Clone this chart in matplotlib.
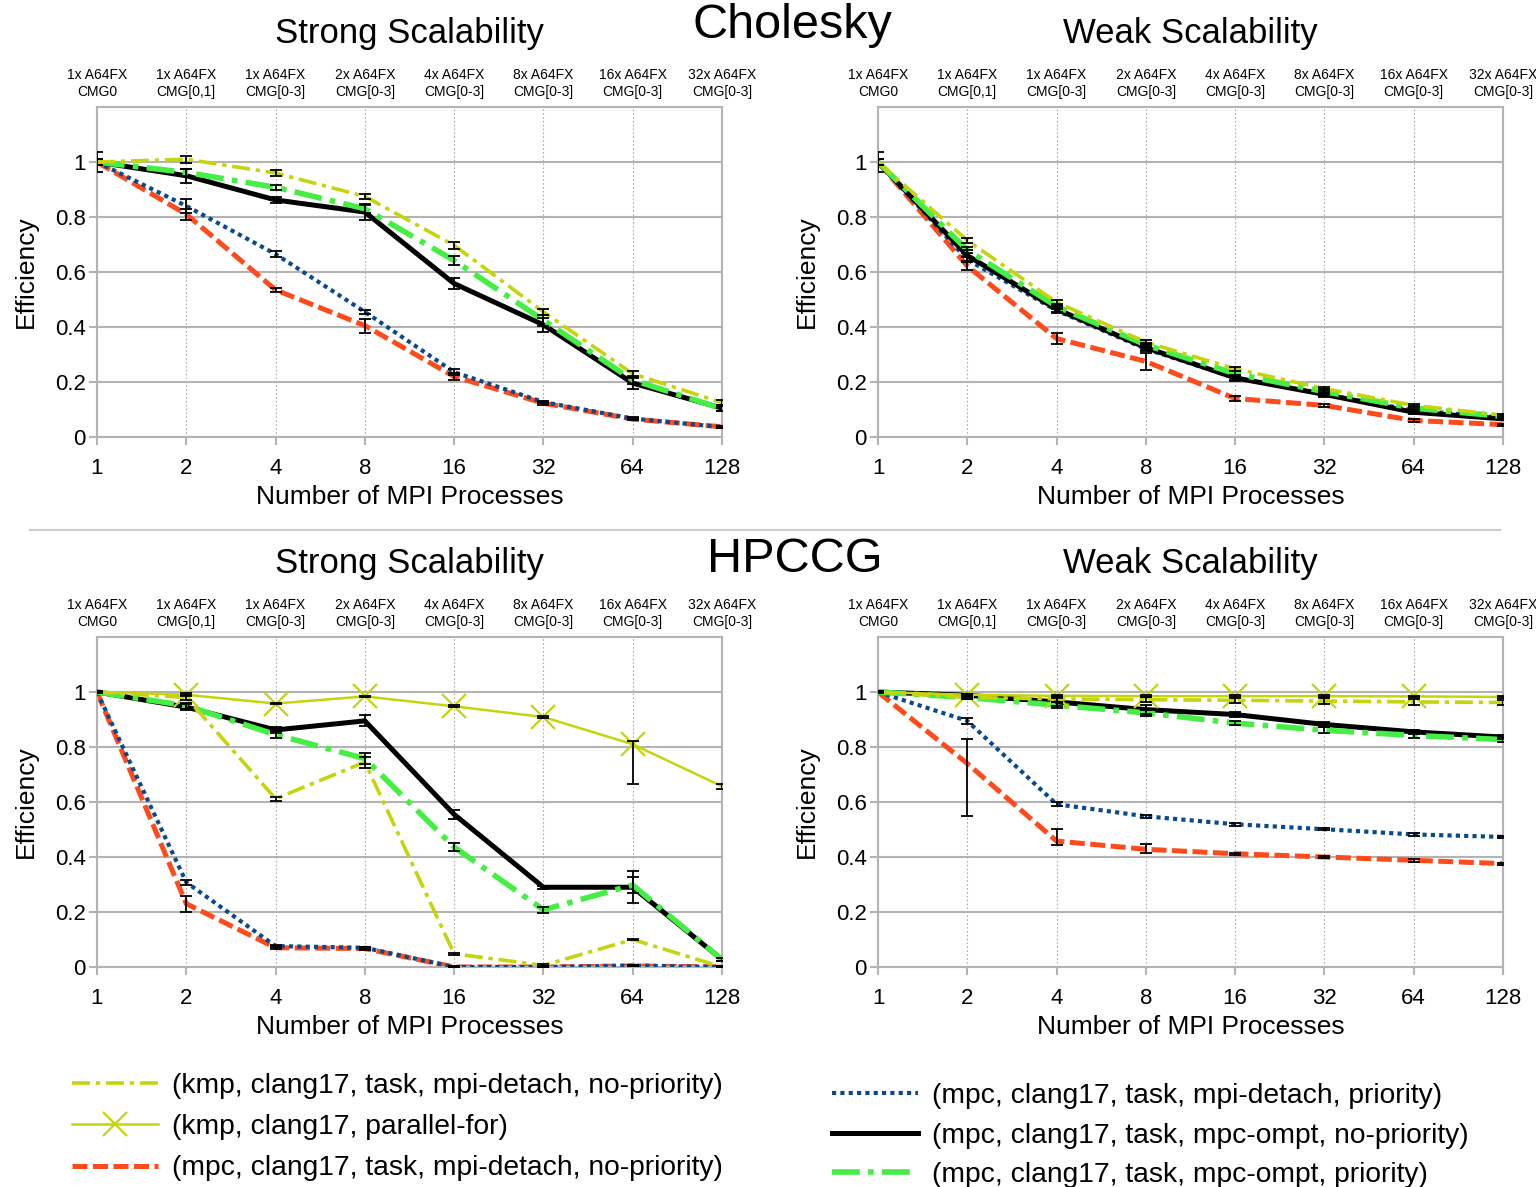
import matplotlib
matplotlib.use('Agg')
import matplotlib.pyplot as plt
from matplotlib.lines import Line2D
from matplotlib.ticker import NullLocator

plt.rcParams['font.family'] = ['Liberation Sans', 'DejaVu Sans']

# x positions (number of MPI processes) and the hardware labels on top
procs = [1, 2, 4, 8, 16, 32, 64, 128]
top_labels = ['1x A64FX\nCMG0', '1x A64FX\nCMG[0,1]', '1x A64FX\nCMG[0-3]', '2x A64FX\nCMG[0-3]',
              '4x A64FX\nCMG[0-3]', '8x A64FX\nCMG[0-3]', '16x A64FX\nCMG[0-3]', '32x A64FX\nCMG[0-3]']
y_ticks = [0, 0.2, 0.4, 0.6, 0.8, 1.0]
y_tick_labels = ['0', '0.2', '0.4', '0.6', '0.8', '1']

# ---- Cholesky, strong scalability
chol_strong_kmp_task = [1.0, 1.01, 0.96, 0.875, 0.697, 0.455, 0.23, 0.125]
chol_strong_kmp_task_err = [0.01, 0.012, 0.01, 0.008, 0.012, 0.01, 0.01, 0.008]
chol_strong_detach_nopri = [1.0, 0.81, 0.535, 0.405, 0.22, 0.123, 0.065, 0.037]
chol_strong_detach_nopri_err = [0.01, 0.02, 0.008, 0.025, 0.012, 0.005, 0.004, 0.003]
chol_strong_detach_pri = [1.0, 0.84, 0.665, 0.455, 0.236, 0.127, 0.067, 0.036]
chol_strong_detach_pri_err = [0.01, 0.025, 0.01, 0.008, 0.01, 0.005, 0.004, 0.003]
chol_strong_ompt_nopri = [1.0, 0.95, 0.862, 0.818, 0.558, 0.408, 0.196, 0.105]
chol_strong_ompt_nopri_err = [0.035, 0.025, 0.012, 0.03, 0.02, 0.025, 0.02, 0.01]
chol_strong_ompt_pri = [1.0, 0.962, 0.908, 0.83, 0.642, 0.425, 0.207, 0.103]
chol_strong_ompt_pri_err = [0.01, 0.012, 0.01, 0.015, 0.018, 0.02, 0.015, 0.01]

# ---- Cholesky, weak scalability
chol_weak_kmp_task = [1.0, 0.715, 0.49, 0.345, 0.248, 0.176, 0.115, 0.079]
chol_weak_kmp_task_err = [0.01, 0.01, 0.01, 0.008, 0.008, 0.006, 0.006, 0.005]
chol_weak_detach_nopri = [1.0, 0.622, 0.358, 0.275, 0.14, 0.115, 0.06, 0.045]
chol_weak_detach_nopri_err = [0.01, 0.015, 0.02, 0.03, 0.008, 0.005, 0.004, 0.004]
chol_weak_detach_pri = [1.0, 0.645, 0.46, 0.32, 0.215, 0.155, 0.097, 0.07]
chol_weak_detach_pri_err = [0.01, 0.01, 0.008, 0.006, 0.006, 0.005, 0.004, 0.004]
chol_weak_ompt_nopri = [1.0, 0.66, 0.465, 0.325, 0.215, 0.155, 0.09, 0.066]
chol_weak_ompt_nopri_err = [0.035, 0.02, 0.01, 0.01, 0.01, 0.008, 0.005, 0.005]
chol_weak_ompt_pri = [1.0, 0.68, 0.475, 0.335, 0.23, 0.165, 0.105, 0.075]
chol_weak_ompt_pri_err = [0.01, 0.01, 0.008, 0.008, 0.01, 0.008, 0.006, 0.005]

# ---- HPCCG, strong scalability
hpccg_strong_kmp_task = [1.0, 0.98, 0.612, 0.745, 0.048, 0.006, 0.1, 0.0]
hpccg_strong_kmp_task_err = [0.005, 0.01, 0.008, 0.02, 0.003, 0.005, 0.003, 0.002]
hpccg_strong_kmp_for = [1.0, 0.99, 0.958, 0.984, 0.948, 0.909, 0.81, 0.657]
hpccg_strong_kmp_for_err = [[0.003, 0.005, 0.003, 0.003, 0.003, 0.003, 0.145, 0.01],
                            [0.003, 0.005, 0.003, 0.003, 0.003, 0.003, 0.012, 0.01]]
hpccg_strong_detach_nopri = [1.0, 0.23, 0.07, 0.067, 0.0, 0.0, 0.004, 0.0]
hpccg_strong_detach_nopri_err = [0.005, 0.03, 0.005, 0.004, 0.002, 0.003, 0.002, 0.002]
hpccg_strong_detach_pri = [1.0, 0.308, 0.076, 0.07, 0.0, 0.0, 0.005, 0.0]
hpccg_strong_detach_pri_err = [0.005, 0.01, 0.005, 0.004, 0.002, 0.003, 0.002, 0.002]
hpccg_strong_ompt_nopri = [1.0, 0.945, 0.862, 0.895, 0.555, 0.29, 0.29, 0.027]
hpccg_strong_ompt_nopri_err = [0.005, 0.01, 0.01, 0.02, 0.015, 0.005, 0.058, 0.005]
hpccg_strong_ompt_pri = [1.0, 0.95, 0.845, 0.758, 0.436, 0.208, 0.298, 0.027]
hpccg_strong_ompt_pri_err = [0.005, 0.01, 0.012, 0.02, 0.015, 0.01, 0.03, 0.005]

# ---- HPCCG, weak scalability
hpccg_weak_kmp_task = [1.0, 0.98, 0.975, 0.972, 0.97, 0.967, 0.964, 0.962]
hpccg_weak_kmp_task_err = [0.005, 0.005, 0.01, 0.01, 0.01, 0.01, 0.01, 0.01]
hpccg_weak_kmp_for = [1.0, 0.99, 0.986, 0.985, 0.985, 0.985, 0.984, 0.982]
hpccg_weak_kmp_for_err = [0.003, 0.003, 0.003, 0.003, 0.003, 0.003, 0.003, 0.003]
hpccg_weak_detach_nopri = [1.0, 0.74, 0.458, 0.428, 0.412, 0.4, 0.388, 0.376]
hpccg_weak_detach_nopri_err = [[0.005, 0.19, 0.015, 0.015, 0.004, 0.004, 0.005, 0.004],
                               [0.005, 0.09, 0.045, 0.02, 0.004, 0.004, 0.005, 0.004]]
hpccg_weak_detach_pri = [1.0, 0.895, 0.592, 0.548, 0.519, 0.501, 0.482, 0.473]
hpccg_weak_detach_pri_err = [0.005, 0.01, 0.008, 0.005, 0.005, 0.004, 0.004, 0.003]
hpccg_weak_ompt_nopri = [1.0, 0.988, 0.964, 0.936, 0.918, 0.882, 0.855, 0.836]
hpccg_weak_ompt_nopri_err = [0.005, 0.005, 0.015, 0.015, 0.008, 0.01, 0.008, 0.008]
hpccg_weak_ompt_pri = [1.0, 0.98, 0.952, 0.924, 0.887, 0.861, 0.842, 0.827]
hpccg_weak_ompt_pri_err = [0.005, 0.005, 0.01, 0.01, 0.008, 0.01, 0.008, 0.008]

legend_left = ['(kmp, clang17, task, mpi-detach, no-priority)', '(kmp, clang17, parallel-for)',
               '(mpc, clang17, task, mpi-detach, no-priority)']
legend_right = ['(mpc, clang17, task, mpi-detach, priority)', '(mpc, clang17, task, mpc-ompt, no-priority)',
                '(mpc, clang17, task, mpc-ompt, priority)']

YEL = '#c5d40c'
RED = '#ff4a1c'
BLUE = '#0a4a8a'
GRN = '#44ee44'
GRID = '#b3b3b3'

styles = {
    'kmp_task': dict(color=YEL, lw=2.6, dashes=(5, 1.6, 1.2, 1.6), zorder=5),
    'kmp_for': dict(color=YEL, lw=1.8, marker='x', ms=17, mew=1.6, zorder=6),
    'detach_nopri': dict(color=RED, lw=3.6, dashes=(3, 1.1), zorder=2),
    'detach_pri': dict(color=BLUE, lw=3.0, dashes=(1, 1), zorder=3),
    'ompt_nopri': dict(color='black', lw=3.6, zorder=3.5),
    'ompt_pri': dict(color=GRN, lw=4.0, dashes=(5, 1.5, 1, 1.5), zorder=4),
}

fig = plt.figure(figsize=(15.36, 11.87), dpi=100)
W, H = 1536.0, 1187.0


def panel(left_px, bottom_px, series):
    ax = fig.add_axes([left_px / W, 1 - bottom_px / H, 625 / W, 330 / H])
    for key, vals, err in series:
        st = dict(styles[key])
        if key == 'kmp_for':
            st['markevery'] = [1, 2, 3, 4, 5, 6]
        ax.plot(procs, vals, **st)
        ax.errorbar(procs, vals, yerr=err, fmt='none', ecolor='black', elinewidth=1.3,
                    capsize=4, capthick=1.3, zorder=10)
    ax.set_xscale('log', base=2)
    ax.set_xlim(1, 128)
    ax.set_ylim(0, 1.2)
    ax.set_xticks(procs, labels=[str(p) for p in procs])
    ax.xaxis.set_minor_locator(NullLocator())
    ax.set_yticks(y_ticks, labels=y_tick_labels)
    ax.yaxis.grid(True, color=GRID, lw=1.5)
    ax.xaxis.grid(True, color='#aaaaaa', lw=0.8, ls=(0, (1.5, 2)))
    ax.set_axisbelow(True)
    for s in ax.spines.values():
        s.set_color(GRID)
        s.set_linewidth(1.5)
    ax.tick_params(axis='both', colors=GRID, labelcolor='black', width=1.5, length=6, labelsize=16)
    ax.tick_params(axis='x', pad=9)
    ax.tick_params(axis='y', pad=2)
    ax.set_xlabel('Number of MPI Processes', fontsize=19)
    ax.xaxis.set_label_coords(0.5, -0.145)
    ax.set_ylabel('Efficiency', fontsize=19)
    ax.yaxis.set_label_coords(-0.095, 0.5)

    sec = ax.secondary_xaxis('top')
    sec.set_xticks(procs, labels=top_labels)
    sec.xaxis.set_minor_locator(NullLocator())
    sec.tick_params(length=0, labelsize=10, pad=6)
    sec.spines['top'].set_visible(False)
    return ax


panel(97, 437, [
    ('detach_nopri', chol_strong_detach_nopri, chol_strong_detach_nopri_err),
    ('detach_pri', chol_strong_detach_pri, chol_strong_detach_pri_err),
    ('ompt_nopri', chol_strong_ompt_nopri, chol_strong_ompt_nopri_err),
    ('ompt_pri', chol_strong_ompt_pri, chol_strong_ompt_pri_err),
    ('kmp_task', chol_strong_kmp_task, chol_strong_kmp_task_err),
])
panel(878, 437, [
    ('detach_nopri', chol_weak_detach_nopri, chol_weak_detach_nopri_err),
    ('detach_pri', chol_weak_detach_pri, chol_weak_detach_pri_err),
    ('ompt_nopri', chol_weak_ompt_nopri, chol_weak_ompt_nopri_err),
    ('ompt_pri', chol_weak_ompt_pri, chol_weak_ompt_pri_err),
    ('kmp_task', chol_weak_kmp_task, chol_weak_kmp_task_err),
])
panel(97, 967, [
    ('detach_nopri', hpccg_strong_detach_nopri, hpccg_strong_detach_nopri_err),
    ('detach_pri', hpccg_strong_detach_pri, hpccg_strong_detach_pri_err),
    ('ompt_nopri', hpccg_strong_ompt_nopri, hpccg_strong_ompt_nopri_err),
    ('ompt_pri', hpccg_strong_ompt_pri, hpccg_strong_ompt_pri_err),
    ('kmp_task', hpccg_strong_kmp_task, hpccg_strong_kmp_task_err),
    ('kmp_for', hpccg_strong_kmp_for, hpccg_strong_kmp_for_err),
])
panel(878, 967, [
    ('detach_nopri', hpccg_weak_detach_nopri, hpccg_weak_detach_nopri_err),
    ('detach_pri', hpccg_weak_detach_pri, hpccg_weak_detach_pri_err),
    ('ompt_nopri', hpccg_weak_ompt_nopri, hpccg_weak_ompt_nopri_err),
    ('ompt_pri', hpccg_weak_ompt_pri, hpccg_weak_ompt_pri_err),
    ('kmp_task', hpccg_weak_kmp_task, hpccg_weak_kmp_task_err),
    ('kmp_for', hpccg_weak_kmp_for, hpccg_weak_kmp_for_err),
])

# titles
fig.text(409.5 / W, 1 - 34 / H, 'Strong Scalability', fontsize=25, ha='center', va='center')
fig.text(1190 / W, 1 - 34 / H, 'Weak Scalability', fontsize=25, ha='center', va='center')
fig.text(792 / W, 1 - 25 / H, 'Cholesky', fontsize=35, ha='center', va='center')
fig.text(409.5 / W, 1 - 564 / H, 'Strong Scalability', fontsize=25, ha='center', va='center')
fig.text(1190 / W, 1 - 564 / H, 'Weak Scalability', fontsize=25, ha='center', va='center')
fig.text(795 / W, 1 - 560 / H, 'HPCCG', fontsize=35, ha='center', va='center')

# separator between the two benchmarks
fig.add_artist(Line2D([30 / W, 1500 / W], [1 - 530 / H, 1 - 530 / H], color='#cccccc', lw=1.5))

# legends
def handle(key):
    st = dict(styles[key])
    st.pop('zorder')
    return Line2D([], [], **st)

leg1 = fig.legend([handle('kmp_task'), handle('kmp_for'), handle('detach_nopri')], legend_left,
                  loc='upper left', bbox_to_anchor=(72 / W, 1 - 1073 / H), frameon=False,
                  fontsize=20.3, handlelength=3.05, handletextpad=0.5, labelspacing=0.54,
                  borderpad=0, borderaxespad=0)
leg2 = fig.legend([handle('detach_pri'), handle('ompt_nopri'), handle('ompt_pri')], legend_right,
                  loc='upper left', bbox_to_anchor=(832 / W, 1 - 1083 / H), frameon=False,
                  fontsize=20.3, handlelength=3.05, handletextpad=0.5, labelspacing=0.48,
                  borderpad=0, borderaxespad=0)

fig.savefig('out.png', dpi=100)
